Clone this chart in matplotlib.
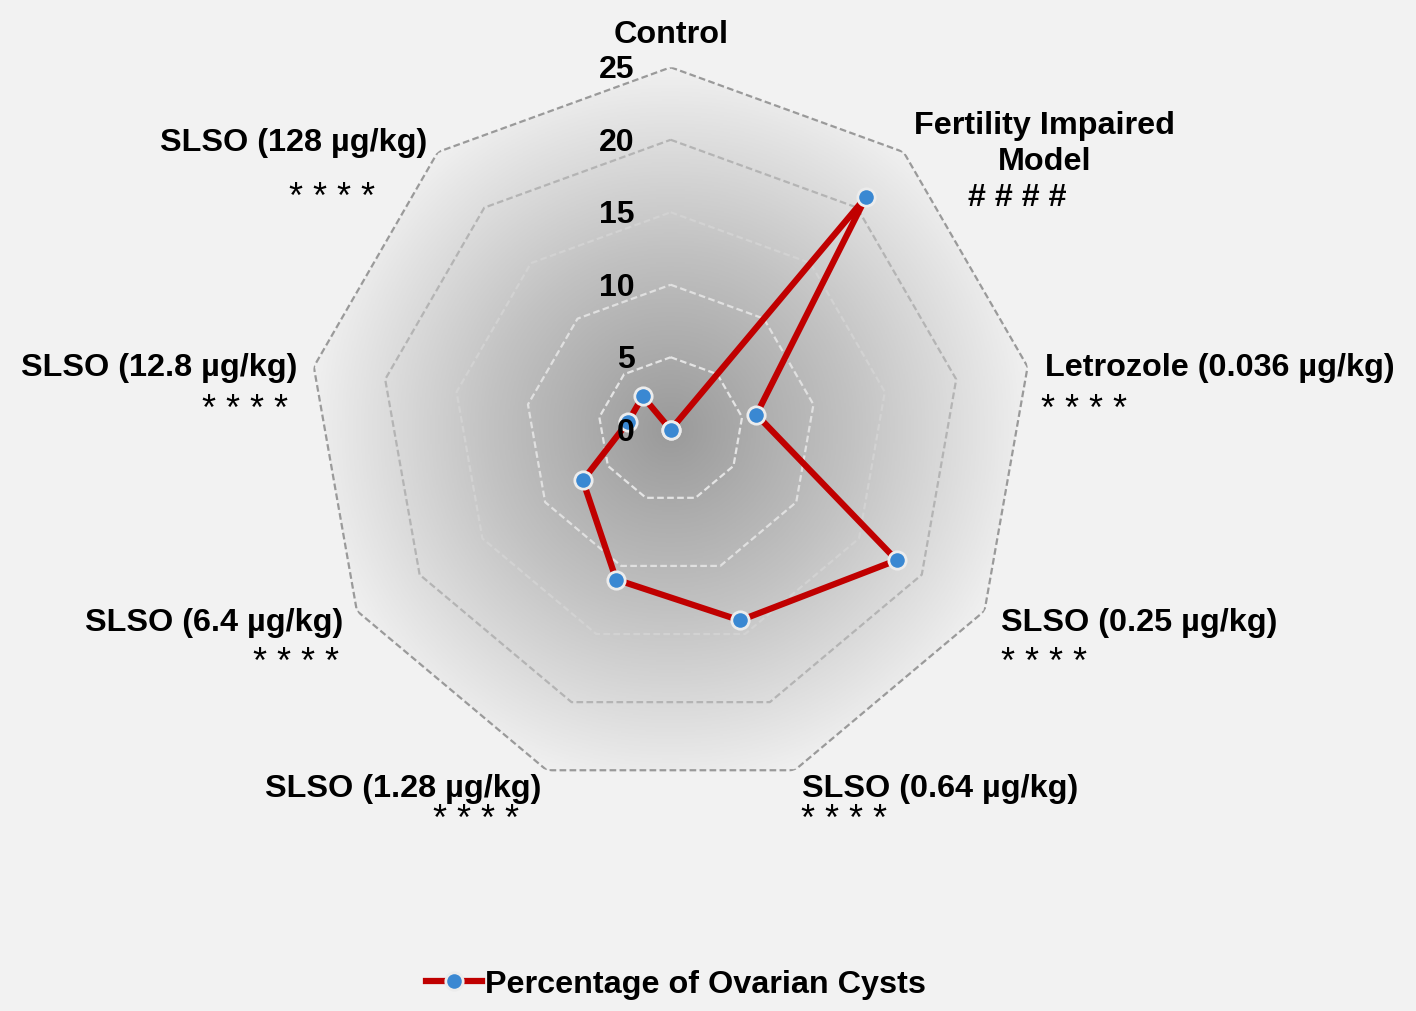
import matplotlib
matplotlib.use('Agg')
import matplotlib.pyplot as plt
import numpy as np
from matplotlib.colors import LinearSegmentedColormap

plt.rcParams['font.family'] = ['Liberation Sans', 'DejaVu Sans']

categories = ['Control', 'Fertility Impaired\nModel', 'Letrozole (0.036 µg/kg)',
              'SLSO (0.25 µg/kg)', 'SLSO (0.64 µg/kg)', 'SLSO (1.28 µg/kg)',
              'SLSO (6.4 µg/kg)', 'SLSO (12.8 µg/kg)', 'SLSO (128 µg/kg)']
values = [0, 21, 6, 18, 14, 11, 7, 3, 3]
marks = ['', '# # # #', '* * * *', '* * * *', '* * * *', '* * * *',
         '* * * *', '* * * *', '* * * *']
rings = [5, 10, 15, 20, 25]
ring_colors = ['#e4e4e4', '#e0e0e0', '#d2d2d2', '#b4b4b4', '#9a9a9a']
series_name = 'Percentage of Ovarian Cysts'

W, H = 1416, 1012
fig = plt.figure(figsize=(W / 100, H / 100), dpi=100)
fig.patch.set_facecolor('#f2f2f2')

# axes box: centre at (671, 431) px, radius 362 px
cx, cy, R = 670.7, 430.7, 362.4
rect = [(cx - R) / W, (H - cy - R) / H, 2 * R / W, 2 * R / H]

bg = fig.add_axes(rect, zorder=0)
bg.set_xlim(-1, 1)
bg.set_ylim(-1, 1)
bg.axis('off')
ax = fig.add_axes(rect, projection='polar', zorder=1)
ax.set_facecolor('none')
ax.set_theta_offset(np.pi / 2)
ax.set_theta_direction(-1)
ax.set_ylim(0, 25)
ax.axis('off')

n = len(categories)
angles = np.linspace(0, 2 * np.pi, n, endpoint=False)
ang_closed = np.append(angles, angles[0])

# radial gradient fill clipped to the outer polygon
outer = ax.fill(angles, [rings[-1]] * n, facecolor='none', edgecolor='none')[0]
g = np.linspace(-1, 1, 600)
xx, yy = np.meshgrid(g, g)
rr = np.clip(np.sqrt(xx ** 2 + yy ** 2), 0, 1)
cmap = LinearSegmentedColormap.from_list('grad', ['#9a9a9a', '#c2c2c2', '#f0f0f0'])
im = bg.imshow(rr, extent=(-1, 1, -1, 1), cmap=cmap, vmin=0, vmax=1, origin='lower')
im.set_clip_path(outer)

for r, c in zip(rings, ring_colors):
    ax.plot(ang_closed, [r] * (n + 1), color=c, lw=1.6, ls=(0, (3, 1.5)), zorder=2)

for r in [0] + rings:
    ax.annotate(str(r), xy=(0, r), xytext=(-36, -2), textcoords='offset pixels',
                ha='right', va='center', fontsize=23, fontweight='bold', zorder=5)

vals_closed = values + values[:1]
ax.plot(ang_closed, vals_closed, color='#c00000', lw=4.5, marker='o', ms=12.5,
        mfc='#3a88d2', mec='#ececec', mew=2, zorder=4, clip_on=False,
        label=series_name)

# category labels: (x px, y px, ha) and significance marks
label_pos = [(671, 35, 'center'), (1045, 144, 'center'), (1045, 368, 'left'),
             (1001, 623, 'left'), (802, 789, 'left'), (541, 789, 'right'),
             (343, 623, 'right'), (297, 368, 'right'), (427, 143, 'right')]
mark_pos = [(0, 0, 'left'), (1017, 198, 'center'), (1041, 411, 'left'),
            (1001, 664, 'left'), (801, 821, 'left'), (519, 821, 'right'),
            (339, 664, 'right'), (288, 411, 'right'), (375, 198, 'right')]
for lab, (x, y, ha) in zip(categories, label_pos):
    fig.text(x / W, 1 - y / H, lab, ha=ha, va='center', fontsize=23.3,
             fontweight='bold', linespacing=1.3)
for m, (x, y, ha) in zip(marks, mark_pos):
    if not m:
        continue
    if m.startswith('#'):
        fig.text(x / W, 1 - y / H, m, ha=ha, va='center', fontsize=23.3,
                 fontweight='bold')
    else:
        fig.text(x / W, 1 - y / H, m, ha=ha, va='center', fontsize=26)

fig.legend(loc='center', bbox_to_anchor=(676 / W, 1 - 985 / H), frameon=False,
           prop={'weight': 'bold', 'size': 23.3}, handlelength=1.75,
           handletextpad=0.1, numpoints=1)

plt.savefig('out.png', dpi=100, facecolor=fig.get_facecolor())
